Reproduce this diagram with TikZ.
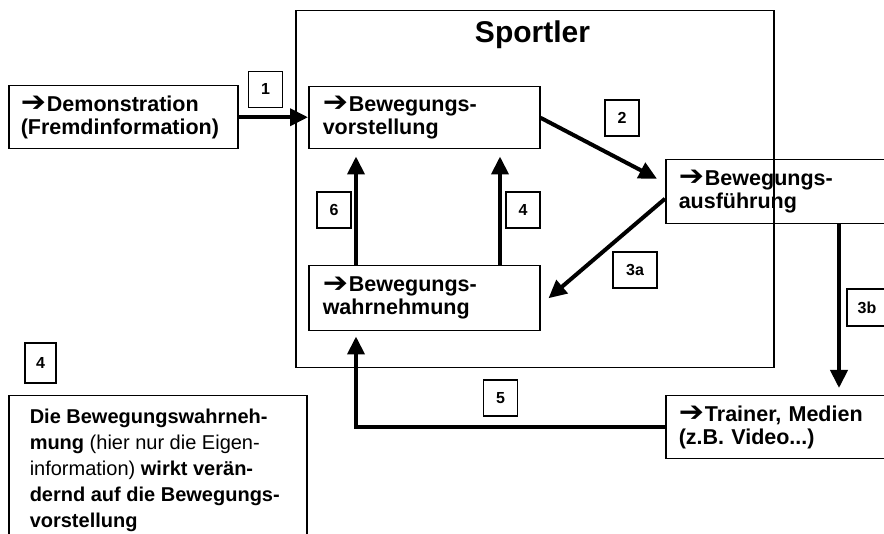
\documentclass[tikz,border=0pt]{standalone}
\usepackage{fontspec}
\setmainfont{Liberation Sans}
\newfontfamily\pfeilfont{DejaVu Sans}
\usetikzlibrary{arrows.meta}
\newcommand{\pf}{\raisebox{-0.5pt}{\scalebox{1.4}[1.3]{\pfeilfont\char"2794}}\hspace{1pt}}

\begin{document}
\begin{tikzpicture}[x=1pt, y=-1pt, line width=1.5pt,
      every node/.append style={font=\bfseries\fontsize{21.5}{23}\selectfont},
      kasten/.style={draw, anchor=north west, align=left, inner ysep=4pt},
      nr/.style={draw, minimum width=34pt, minimum height=36pt, inner sep=0pt,
        font=\bfseries\fontsize{16}{16}\selectfont},
      pfeil/.style={line width=4pt, -{Triangle[length=18pt,width=17pt]}}]
	  \path[use as bounding box, clip] (0,0) rectangle (884,534);
	  \node (sp) [draw, anchor=north west, minimum width=478pt, minimum height=357pt] at (295,10) {};
	  \node (sp_t) [anchor=base, font=\bfseries\fontsize{30}{30}\selectfont] at (532.5,43) {Sportler};
	  \node (demo) [kasten, inner xsep=12pt, text width=205pt, minimum height=63pt] at (8,85) {\pf Demonstration\\(Fremdinformation)};
	  \node (vorst) [kasten, inner xsep=14pt, text width=203pt, minimum height=62pt] at (308,86) {\pf Bewegungs-\\vorstellung};
	  \node (wahr) [kasten, inner xsep=14pt, text width=203pt, minimum height=65pt] at (308,265) {\pf Bewegungs-\\wahrnehmung};
	  \node (ausf) [kasten, inner xsep=13pt, text width=234pt, minimum height=64pt] at (665,159) {\pf Bewegungs-\\ausführung};
	  \node (train) [kasten, inner xsep=13pt, text width=234pt, minimum height=63pt] at (665,395) {\pf Trainer, Medien\\(z.B. Video...)};
	  \node (info_box) [draw, anchor=north west, minimum width=298pt, minimum height=160pt] at (8,395) {};
	  \node (info) [anchor=north west, align=left, inner sep=0pt, font=\fontsize{20}{26}\selectfont] at ([shift={(21pt,-13pt)}]info_box.north west)
	    {\textbf{Die Bewegungswahrneh-}\\\textbf{mung} (hier nur die Eigen-\\information) \textbf{wirkt verän-}\\\textbf{dernd auf die Bewegungs-}\\\textbf{vorstellung}};
	  \node (n_1) [nr] at (265.5,89.5) {1};
	  \node (n_2) [nr] at (622,118) {2};
	  \node (n_3a) [nr, minimum width=44pt] at (635,270) {3a};
	  \node (n_3b) [nr, minimum width=40pt, minimum height=37pt] at (867,307.5) {3b};
	  \node (n_4) [nr] at (523,210) {4};
	  \node (n_6) [nr] at (334,210) {6};
	  \node (n_5) [nr] at (500.5,398) {5};
	  \node (n_4b) [nr, minimum width=31pt, minimum height=40pt] at (40.5,363) {4};
	  \draw[pfeil] (demo.east) -- (demo.east -| vorst.west);
	  \draw[pfeil] (vorst.east) -- ([shift={(-8pt,13pt)}]ausf.west);
	  \draw[pfeil] ([yshift=-7pt]ausf.west) -- ([xshift=8pt]wahr.east);
	  \draw[pfeil] ([xshift=174pt]ausf.south west) -- ([xshift=174pt,yshift=7pt]train.north west);
	  \draw[pfeil] ([xshift=192pt]wahr.north west) -- ([xshift=192pt,yshift=-7pt]vorst.south west);
	  \draw[pfeil] ([xshift=48pt]wahr.north west) -- ([xshift=48pt,yshift=-7pt]vorst.south west);
	  \draw[pfeil] (train.west) -| ([xshift=48pt,yshift=-5pt]wahr.south west);
\end{tikzpicture}
\end{document}
